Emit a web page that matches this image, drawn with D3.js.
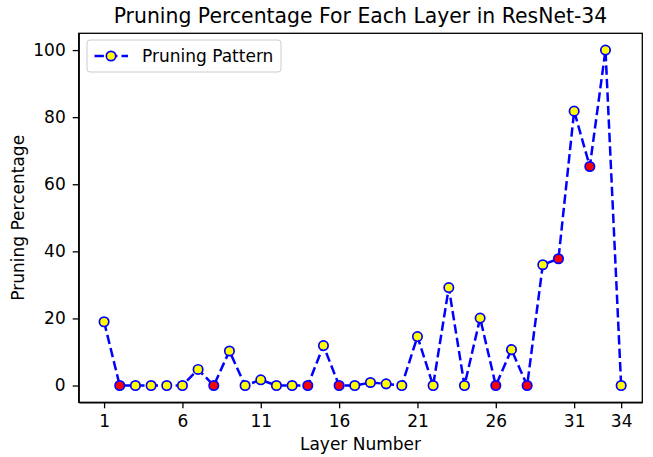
<!DOCTYPE html>
<html lang="en">
<head>
    <meta charset="UTF-8">
    <title>Pruning Percentage</title>
    <script src="https://d3js.org/d3.v7.min.js"></script>
    <style>
        body { margin: 0; background: #fff; }
        text { font-family: "DejaVu Sans", sans-serif; fill: #000; }
        .axis path, .axis line { stroke: #000; stroke-width: 1.3; }
        .axis text { font-size: 17px; }
    </style>
</head>
<body>
    <script>
        // data
        const layers = d3.range(1, 35);
        const pruning = [19, 0, 0, 0, 0, 0, 4.8, 0, 10.3, 0,
                         1.7, 0, 0, 0, 11.9, 0, 0, 0.9, 0.5, 0,
                         14.6, 0, 29.2, 0, 20.1, 0, 10.7, 0, 36, 37.8,
                         81.8, 65.3, 100, 0];
        const redLayers = [2, 8, 14, 16, 26, 28, 30, 32];
        const xTicks = [1, 6, 11, 16, 21, 26, 31, 34];
        const yTicks = [0, 20, 40, 60, 80, 100];

        const data = layers.map((l, i) => ({layer: l, value: pruning[i], red: redLayers.includes(l)}));

        const svgWidth = 653;
        const svgHeight = 457;
        const margins = {top: 33.3, right: 10.7, bottom: 54.7, left: 78.7};
        const chartWidth = svgWidth - margins.left - margins.right;
        const chartHeight = svgHeight - margins.top - margins.bottom;

        const svg = d3.select("body").append("svg")
            .attr("width", svgWidth)
            .attr("height", svgHeight);

        const chart = svg.append("g")
            .attr("transform", `translate(${margins.left},${margins.top})`);

        const xScale = d3.scaleLinear()
            .domain([-0.62, 35.35])
            .range([0, chartWidth]);

        const yScale = d3.scaleLinear()
            .domain([-5, 105])
            .range([chartHeight, 0]);

        chart.append("g")
            .attr("class", "axis")
            .attr("transform", `translate(0,${chartHeight})`)
            .call(d3.axisBottom(xScale).tickValues(xTicks).tickSize(6).tickPadding(7).tickSizeOuter(0));

        chart.append("g")
            .attr("class", "axis")
            .call(d3.axisLeft(yScale).tickValues(yTicks).tickSize(6).tickPadding(7).tickSizeOuter(0));

        // frame
        chart.append("rect")
            .attr("width", chartWidth)
            .attr("height", chartHeight)
            .attr("fill", "none")
            .attr("stroke", "#000")
            .attr("stroke-width", 1.3);

        const line = d3.line()
            .x(d => xScale(d.layer))
            .y(d => yScale(d.value));

        chart.append("path")
            .datum(data)
            .attr("d", line)
            .attr("fill", "none")
            .attr("stroke", "blue")
            .attr("stroke-width", 2.5)
            .attr("stroke-dasharray", "9.4,4.1");

        chart.selectAll("circle.pt")
            .data(data)
            .enter()
            .append("circle")
            .attr("class", "pt")
            .attr("cx", d => xScale(d.layer))
            .attr("cy", d => yScale(d.value))
            .attr("r", 4.7)
            .attr("fill", d => d.red ? "red" : "yellow")
            .attr("stroke", "blue")
            .attr("stroke-width", 1.7);

        // title and labels
        svg.append("text")
            .attr("x", margins.left + chartWidth / 2)
            .attr("y", 23)
            .attr("text-anchor", "middle")
            .style("font-size", "20.4px")
            .text("Pruning Percentage For Each Layer in ResNet-34");

        svg.append("text")
            .attr("x", margins.left + chartWidth / 2)
            .attr("y", 450)
            .attr("text-anchor", "middle")
            .style("font-size", "17px")
            .text("Layer Number");

        svg.append("text")
            .attr("transform", `translate(23.5,${margins.top + chartHeight / 2}) rotate(-90)`)
            .attr("text-anchor", "middle")
            .style("font-size", "17px")
            .text("Pruning Percentage");

        // legend
        const legend = svg.append("g").attr("transform", "translate(87,40)");
        legend.append("rect")
            .attr("width", 194)
            .attr("height", 32)
            .attr("rx", 3)
            .attr("fill", "#fff")
            .attr("fill-opacity", 0.8)
            .attr("stroke", "#ccc")
            .attr("stroke-width", 1);
        legend.append("line")
            .attr("x1", 7).attr("x2", 41)
            .attr("y1", 16).attr("y2", 16)
            .attr("stroke", "blue")
            .attr("stroke-width", 2.5)
            .attr("stroke-dasharray", "9.4,4.1")
            .attr("stroke-dashoffset", -0.5);
        legend.append("circle")
            .attr("cx", 24).attr("cy", 16).attr("r", 4.7)
            .attr("fill", "yellow")
            .attr("stroke", "blue")
            .attr("stroke-width", 1.7);
        legend.append("text")
            .attr("x", 55)
            .attr("y", 22)
            .style("font-size", "17px")
            .text("Pruning Pattern");
    </script>
</body>
</html>
